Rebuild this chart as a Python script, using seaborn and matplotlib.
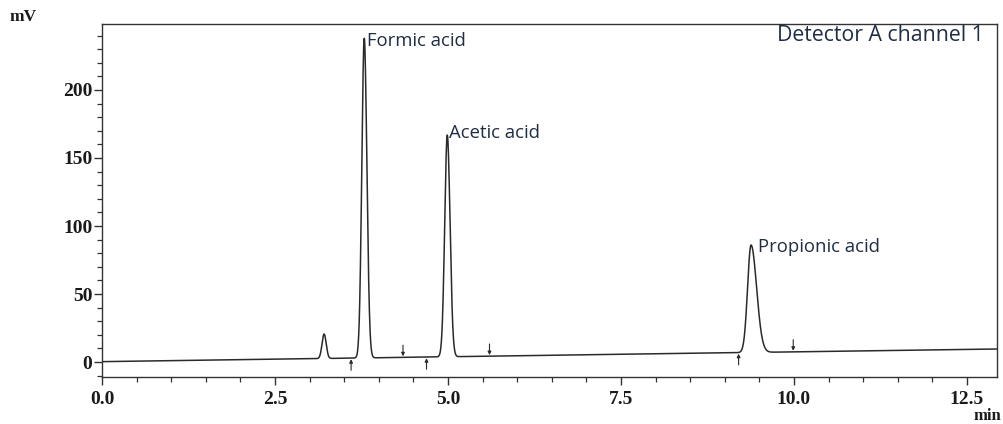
import numpy as np
import pandas as pd
import matplotlib
matplotlib.use("Agg")
import matplotlib.pyplot as plt
from matplotlib.ticker import MultipleLocator, FormatStrFormatter
import seaborn as sns

# ---- data ----
peak_names = ["", "Formic acid", "Acetic acid", "Propionic acid"]
peak_rt = [3.21, 3.79, 4.99, 9.38]            # retention time, min
peak_height = [18.0, 235.0, 163.0, 79.0]      # height above baseline, mV
peak_sigma_left = [0.030, 0.035, 0.037, 0.050]
peak_sigma_right = [0.030, 0.038, 0.040, 0.080]

baseline_t = [0.0, 12.93]
baseline_mv = [0.3, 9.6]

label_t = [3.83, 5.02, 9.48]
label_mv = [232.0, 164.5, 81.0]

up_arrow_t = [3.60, 4.69, 9.20]
down_arrow_t = [4.35, 5.60, 9.99]

x_ticks = [0.0, 2.5, 5.0, 7.5, 10.0, 12.5]
y_ticks = [0, 50, 100, 150, 200]

# ---- build trace from the read peak table ----
t = np.linspace(0, 12.93, 5000)
base = np.interp(t, baseline_t, baseline_mv)
signal = base.copy()
for rt, h, sl, sr in zip(peak_rt, peak_height, peak_sigma_left, peak_sigma_right):
    s = np.where(t < rt, sl, sr)
    signal += h * np.exp(-0.5 * ((t - rt) / s) ** 2)
df = pd.DataFrame({"t": t, "mV": signal})

sns.set_theme(style="white")
plt.rcParams["font.family"] = ["DejaVu Sans"]

fig = plt.figure(figsize=(10.04, 4.24), dpi=100)
ax = fig.add_axes([0.1016, 0.1108, 0.8911, 0.8326])

line_color = "#2a2a2a"
sns.lineplot(data=df, x="t", y="mV", ax=ax, color=line_color, linewidth=1.1,
             estimator=None, sort=False)

ax.set_xlim(0, 12.93)
ax.set_ylim(-11, 248.5)
ax.set_xlabel("")
ax.set_ylabel("")

for sp in ax.spines.values():
    sp.set_visible(True)
    sp.set_color("#333333")
    sp.set_linewidth(1.0)

ax.set_xticks(x_ticks)
ax.xaxis.set_minor_locator(MultipleLocator(0.5))
ax.set_yticks(y_ticks)
ax.yaxis.set_minor_locator(MultipleLocator(10))
ax.xaxis.set_major_formatter(FormatStrFormatter("%.1f"))

ax.tick_params(axis="x", which="major", direction="out", length=6, width=1,
               color="#333333", pad=4, bottom=True)
ax.tick_params(axis="x", which="minor", direction="out", length=3.5, width=0.9,
               color="#333333", bottom=True)
ax.tick_params(axis="y", which="major", direction="out", length=6, width=1,
               color="#333333", pad=1, left=True)
ax.tick_params(axis="y", which="minor", direction="out", length=3.5, width=0.9,
               color="#333333", left=True)
for lab in ax.get_xticklabels() + ax.get_yticklabels():
    lab.set_fontfamily("Liberation Serif")
    lab.set_fontweight("bold")
    lab.set_fontsize(14)
    lab.set_color("#1a1a1a")

# unit labels
fig.text(10 / 1004, 1 - 17 / 424, "mV", ha="left", va="center",
         fontfamily="Liberation Serif", fontweight="bold", fontsize=12.5, color="#1a1a1a")
fig.text(1001 / 1004, 1 - 416 / 424, "min", ha="right", va="center",
         fontfamily="Liberation Serif", fontweight="bold", fontsize=12, color="#1a1a1a")

# peak labels
text_color = "#1f2d45"
for name, lt, lm in zip(peak_names[1:], label_t, label_mv):
    ax.text(lt, lm, name, ha="left", va="baseline", fontfamily="Open Sans",
            fontsize=13.3, color=text_color)
ax.text(12.74, 236.0, "Detector A channel 1", ha="right", va="baseline",
        fontfamily="Open Sans", fontsize=15.3, color=text_color)

# integration markers
for at in up_arrow_t:
    yb = np.interp(at, baseline_t, baseline_mv) - 0.8
    ax.annotate("", xy=(at, yb), xytext=(0, -8), textcoords="offset points",
                arrowprops=dict(arrowstyle="-|>", color=line_color, lw=0.8,
                                mutation_scale=5, shrinkA=0, shrinkB=0))
for at in down_arrow_t:
    yb = np.interp(at, baseline_t, baseline_mv) + 0.8
    ax.annotate("", xy=(at, yb), xytext=(0, 8), textcoords="offset points",
                arrowprops=dict(arrowstyle="-|>", color=line_color, lw=0.8,
                                mutation_scale=5, shrinkA=0, shrinkB=0))

fig.savefig("out.png", dpi=100, facecolor="white")
